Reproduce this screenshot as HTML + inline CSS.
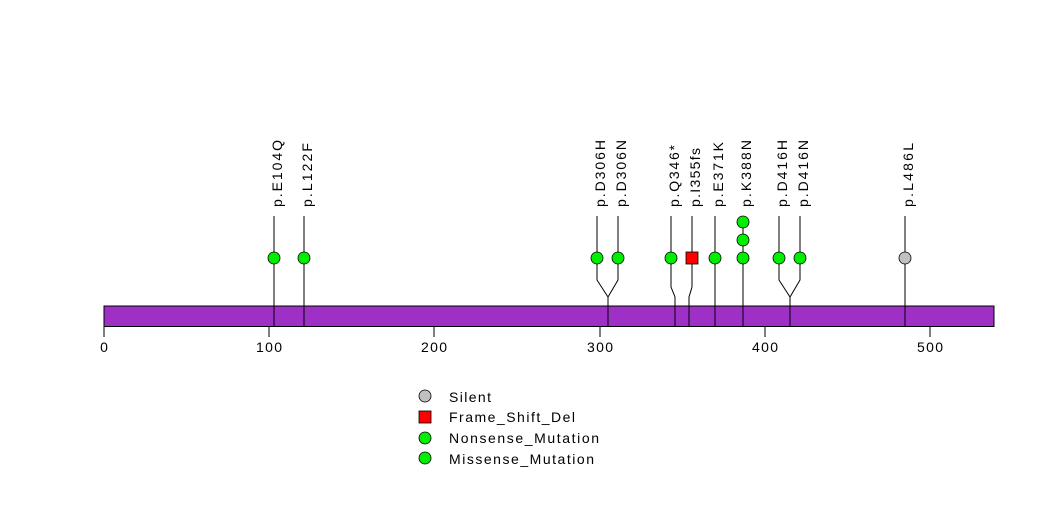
<!DOCTYPE html>
<html><head><meta charset="utf-8"><style>body{margin:0;background:#fff}svg{display:block}</style></head><body>
<svg width="1047" height="524" viewBox="0 0 1047 524" xmlns="http://www.w3.org/2000/svg" font-family="Liberation Sans, sans-serif">
<rect width="1047" height="524" fill="#fff"/>
<g stroke="#000" stroke-width="1" fill="none">
<path d="M274 216V326"/>
<path d="M304 216V326"/>
<path d="M597 216V280L608 297V326"/>
<path d="M618 216V280L608 297"/>
<path d="M671 216V287L675 297V326"/>
<path d="M692 216V287L689 297V326"/>
<path d="M715 216V326"/>
<path d="M743 216V326"/>
<path d="M779 216V280L790 297V326"/>
<path d="M800 216V280L790 297"/>
<path d="M905 216V326"/>
</g>
<rect x="104" y="306" width="890" height="20.5" fill="#9e30c6" stroke="#000"/>
<g stroke="#000" stroke-width="1">
<path d="M274 306V327M304 306V327M608 306V327M675 306V327M689 306V327M715 306V327M743 306V327M790 306V327M905 306V327"/>
<path d="M104 327V337M269 327V337M434 327V337M600 327V337M765 327V337M930 327V337"/>
</g>
<g font-size="14" text-anchor="middle" fill="#000" lengthAdjust="spacing">
<text x="104" y="352">0</text>
<text x="269" y="352" textLength="26" lengthAdjust="spacing">100</text>
<text x="434" y="352" textLength="26" lengthAdjust="spacing">200</text>
<text x="600" y="352" textLength="26" lengthAdjust="spacing">300</text>
<text x="765" y="352" textLength="26" lengthAdjust="spacing">400</text>
<text x="930" y="352" textLength="26" lengthAdjust="spacing">500</text>
</g>
<g stroke="#000" stroke-width="0.8" fill="#00ee00">
<circle cx="274" cy="258" r="6"/><circle cx="304" cy="258" r="6"/>
<circle cx="597" cy="258" r="6"/><circle cx="618" cy="258" r="6"/>
<circle cx="671" cy="258" r="6"/>
<circle cx="715" cy="258" r="6"/>
<circle cx="743" cy="258" r="6"/><circle cx="743" cy="240" r="6"/><circle cx="743" cy="222" r="6"/>
<circle cx="779" cy="258" r="6"/><circle cx="800" cy="258" r="6"/>
<circle cx="905" cy="258" r="6" fill="#c0c0c0"/>
<rect x="686" y="252" width="12" height="12" fill="#ff0000"/>
</g>
<g font-size="14" fill="#000">
<text transform="translate(282,207) rotate(-90)" textLength="67" lengthAdjust="spacing">p.E104Q</text>
<text transform="translate(312,207) rotate(-90)" textLength="64" lengthAdjust="spacing">p.L122F</text>
<text transform="translate(605,207) rotate(-90)" textLength="67" lengthAdjust="spacing">p.D306H</text>
<text transform="translate(626,207) rotate(-90)" textLength="67" lengthAdjust="spacing">p.D306N</text>
<text transform="translate(679,207) rotate(-90)" textLength="62" lengthAdjust="spacing">p.Q346*</text>
<text transform="translate(700,207) rotate(-90)" textLength="59" lengthAdjust="spacing">p.I355fs</text>
<text transform="translate(723,207) rotate(-90)" textLength="65" lengthAdjust="spacing">p.E371K</text>
<text transform="translate(751,207) rotate(-90)" textLength="67" lengthAdjust="spacing">p.K388N</text>
<text transform="translate(787,207) rotate(-90)" textLength="67" lengthAdjust="spacing">p.D416H</text>
<text transform="translate(808,207) rotate(-90)" textLength="67" lengthAdjust="spacing">p.D416N</text>
<text transform="translate(913,207) rotate(-90)" textLength="64" lengthAdjust="spacing">p.L486L</text>
</g>
<g stroke="#000" stroke-width="0.8">
<circle cx="425" cy="396" r="6" fill="#c0c0c0"/>
<rect x="419" y="411" width="12" height="12" fill="#ff0000"/>
<circle cx="425" cy="438" r="6" fill="#00ee00"/>
<circle cx="425" cy="458" r="6" fill="#00ee00"/>
</g>
<g font-size="14" fill="#000">
<text x="449" y="402" textLength="42" lengthAdjust="spacing">Silent</text>
<text x="449" y="422" textLength="126" lengthAdjust="spacing">Frame_Shift_Del</text>
<text x="449" y="443" textLength="150" lengthAdjust="spacing">Nonsense_Mutation</text>
<text x="449" y="464" textLength="145" lengthAdjust="spacing">Missense_Mutation</text>
</g>
</svg>
</body></html>
